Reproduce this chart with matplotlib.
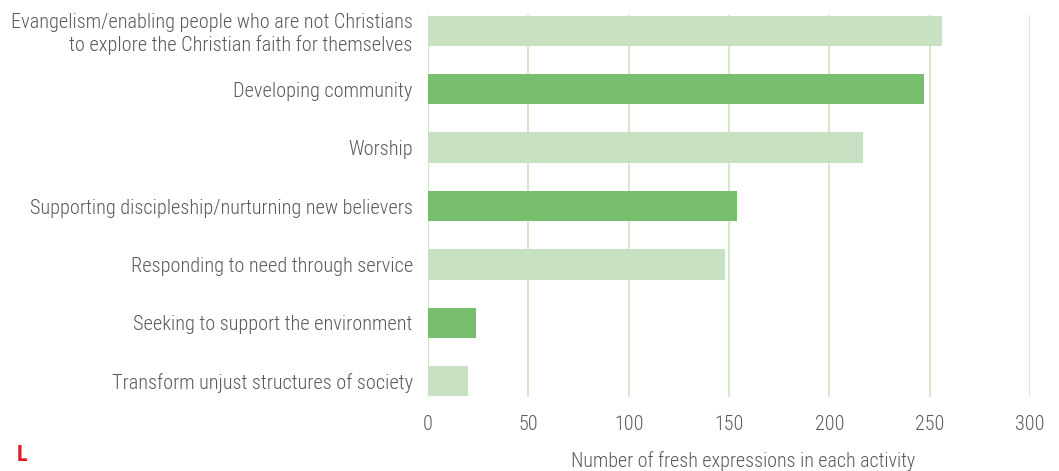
import matplotlib
matplotlib.use("Agg")
import matplotlib.pyplot as plt

# Activities and counts of fresh expressions involved in each
activities = [
    "Evangelism/enabling people who are not Christians\nto explore the Christian faith for themselves",
    "Developing community",
    "Worship",
    "Supporting discipleship/nurturning new believers",
    "Responding to need through service",
    "Seeking to support the environment",
    "Transform unjust structures of society",
]
counts = [256, 247, 217, 154, 148, 24, 20]
bar_colors = ["#c8e1c2", "#77be6f", "#c8e1c2", "#77be6f", "#c8e1c2", "#77be6f", "#c8e1c2"]
xticks = [0, 50, 100, 150, 200, 250, 300]

plt.rcParams["font.family"] = ["Roboto Condensed", "DejaVu Sans"]

fig = plt.figure(figsize=(10.59, 4.71), dpi=100)
ax = fig.add_axes([0.4042, 0.157, 0.5684, 0.811])

pos = list(range(len(activities)))
ax.barh(pos, counts, height=0.52, color=bar_colors, zorder=3)

ax.set_xlim(0, 300)
ax.set_ylim(len(activities) - 1 + 0.27, -0.27)
ax.set_xticks(xticks)
ax.set_yticks(pos)
ax.set_yticklabels(activities, ha="right", linespacing=1.15)
ax.tick_params(axis="y", length=0, pad=11, labelsize=14.6, labelcolor="#595959")
ax.tick_params(axis="x", length=0, pad=13, labelsize=14.5, labelcolor="#595959")
for lbl in ax.get_xticklabels() + ax.get_yticklabels():
    lbl.set_fontweight("light")

ax.grid(axis="x", color="#d4e8cf", linewidth=1.5, zorder=0)
ax.grid(axis="y", visible=False)
for s in ax.spines.values():
    s.set_visible(False)

fig.text(0.702, 0.022, "Number of fresh expressions in each activity",
         ha="center", va="center", fontsize=14.4, color="#595959",
         fontweight="light")
fig.text(0.016, 0.034, "L", ha="left", va="center", fontsize=16,
         fontweight="bold", color="#d2232a")

fig.savefig("out.png", dpi=100)
